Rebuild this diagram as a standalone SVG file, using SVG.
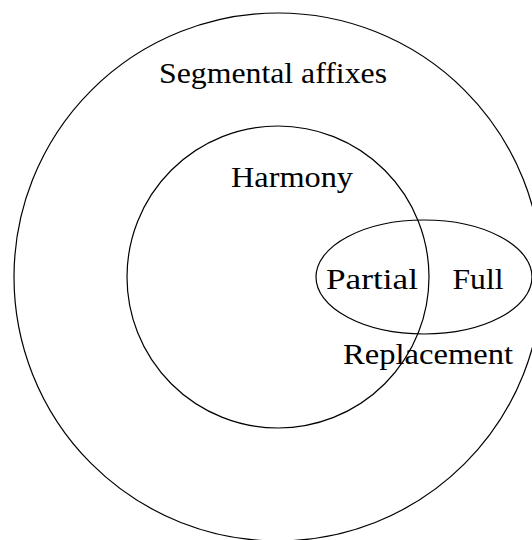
<svg xmlns="http://www.w3.org/2000/svg" width="532" height="540" viewBox="0 0 532 540">
<style>
.s{fill:none;stroke:#000;stroke-width:1.2}
.t{font-family:"Liberation Serif","Times New Roman",serif;font-size:30px;fill:#000;text-anchor:middle}
</style>
<rect width="532" height="540" fill="#fff"/>
<g id="segmental">
<circle class="s" cx="278" cy="277" r="264"/>
<text class="t" x="273" y="83" textLength="228" lengthAdjust="spacingAndGlyphs">Segmental affixes</text>
</g>
<g id="harmony">
<circle class="s" cx="278" cy="277" r="151"/>
<text class="t" x="292" y="187" textLength="122" lengthAdjust="spacingAndGlyphs">Harmony</text>
</g>
<g id="replacement">
<ellipse class="s" cx="424" cy="277" rx="108" ry="57"/>
<text class="t" x="372" y="289" textLength="92" lengthAdjust="spacingAndGlyphs">Partial</text>
<text class="t" x="478" y="289" textLength="51" lengthAdjust="spacingAndGlyphs">Full</text>
<text class="t" x="428" y="364" textLength="170" lengthAdjust="spacingAndGlyphs">Replacement</text>
</g>
<g id="connectors"></g>
</svg>
